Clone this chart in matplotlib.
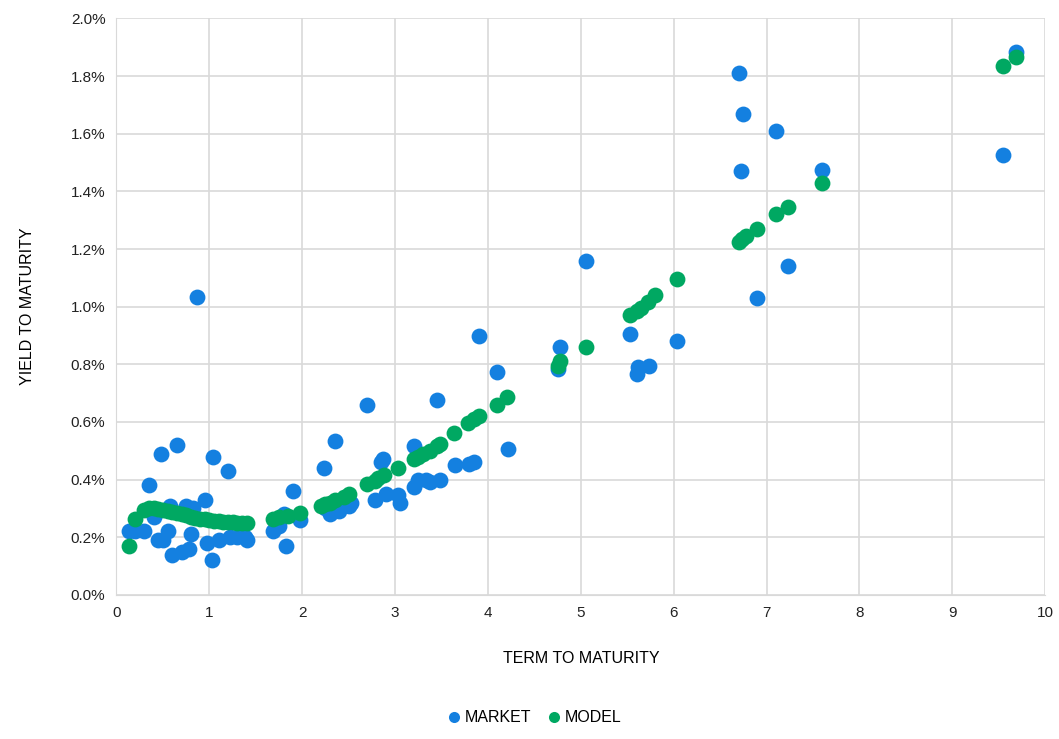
import matplotlib.pyplot as plt
from matplotlib.ticker import FuncFormatter

# Market observations (term in years, yield in %)
market_x = [0.13, 0.2, 0.3, 0.35, 0.4, 0.45, 0.48, 0.5, 0.55, 0.58, 0.6, 0.65, 0.7, 0.75,
            0.78, 0.8, 0.82, 0.87, 0.95, 0.97, 1.03, 1.04, 1.1, 1.2, 1.22, 1.3, 1.38, 1.4,
            1.68, 1.75, 1.8, 1.83, 1.9, 1.98, 2.23, 2.25, 2.3, 2.35, 2.4, 2.5, 2.52, 2.7,
            2.78, 2.85, 2.87, 2.9, 3.03, 3.05, 3.2, 3.2, 3.25, 3.33, 3.38, 3.45, 3.48, 3.65,
            3.8, 3.85, 3.9, 4.1, 4.22, 4.75, 4.77, 5.05, 5.53, 5.6, 5.62, 5.73, 6.03, 6.7,
            6.72, 6.75, 6.9, 7.1, 7.23, 7.6, 9.55, 9.68]
market_y = [0.22, 0.22, 0.22, 0.38, 0.27, 0.19, 0.49, 0.19, 0.22, 0.31, 0.14, 0.52, 0.15, 0.31,
            0.16, 0.21, 0.30, 1.035, 0.33, 0.18, 0.12, 0.48, 0.19, 0.43, 0.2, 0.2, 0.2, 0.19,
            0.22, 0.24, 0.28, 0.17, 0.36, 0.26, 0.44, 0.3, 0.28, 0.535, 0.29, 0.31, 0.32, 0.66,
            0.33, 0.46, 0.47, 0.35, 0.345, 0.32, 0.515, 0.375, 0.4, 0.4, 0.39, 0.675, 0.4, 0.45,
            0.455, 0.46, 0.9, 0.775, 0.505, 0.785, 0.86, 1.16, 0.905, 0.765, 0.79, 0.795, 0.88, 1.81,
            1.47, 1.67, 1.03, 1.61, 1.14, 1.475, 1.525, 1.885]

# Model fitted yields
model_x = [0.13, 0.2, 0.3, 0.35, 0.4, 0.45, 0.5, 0.55, 0.6, 0.65, 0.7, 0.75, 0.8, 0.85,
           0.9, 0.95, 1.0, 1.05, 1.1, 1.15, 1.2, 1.25, 1.3, 1.35, 1.4,
           1.68, 1.75, 1.85, 1.98, 2.2, 2.25, 2.3, 2.35, 2.45, 2.5, 2.7, 2.78, 2.82, 2.88,
           3.03, 3.2, 3.25, 3.3, 3.38, 3.45, 3.48, 3.63, 3.78, 3.85, 3.9, 4.1, 4.2, 4.75,
           4.77, 5.05, 5.53, 5.6, 5.65, 5.72, 5.8, 6.03, 6.7, 6.73, 6.78, 6.9, 7.1, 7.23,
           7.6, 9.55, 9.68]
model_y = [0.17, 0.265, 0.295, 0.3, 0.3, 0.298, 0.295, 0.292, 0.288, 0.284, 0.28, 0.276, 0.272, 0.268,
           0.265, 0.262, 0.26, 0.258, 0.256, 0.254, 0.253, 0.252, 0.251, 0.25, 0.25,
           0.265, 0.27, 0.275, 0.285, 0.31, 0.315, 0.32, 0.33, 0.34, 0.35, 0.385, 0.395, 0.405, 0.415,
           0.44, 0.47, 0.48, 0.49, 0.5, 0.515, 0.525, 0.56, 0.595, 0.61, 0.62, 0.66, 0.685, 0.795,
           0.81, 0.86, 0.97, 0.985, 0.995, 1.015, 1.04, 1.095, 1.225, 1.235, 1.245, 1.27, 1.32, 1.345,
           1.43, 1.835, 1.865]

plt.rcParams['font.family'] = ['Liberation Sans', 'DejaVu Sans']

fig = plt.figure(figsize=(10.59, 7.39), dpi=100)
ax = fig.add_axes([0.11, 0.195, 0.877, 0.78])

ax.scatter(market_x, market_y, s=130, color="#1480e0", label="MARKET", zorder=3, linewidths=0)
ax.scatter(model_x, model_y, s=130, color="#00a862", label="MODEL", zorder=4, linewidths=0)

ax.set_xlim(0, 10)
ax.set_ylim(0, 2.0)
ax.set_xticks(range(0, 11))
ax.set_yticks([i * 0.2 for i in range(11)])
ax.yaxis.set_major_formatter(FuncFormatter(lambda v, _: f"{v:.1f}%"))
ax.grid(True, color="#d9d9d9", lw=1.2)
ax.set_axisbelow(True)
for side in ["top", "right"]:
    ax.spines[side].set_visible(False)
ax.spines["left"].set_color("#d9d9d9")
ax.spines["bottom"].set_color("#d9d9d9")
ax.tick_params(length=0, labelsize=11, colors="#222222", pad=8)

ax.set_xlabel("TERM TO MATURITY", fontsize=11.5, labelpad=22)
ax.set_ylabel("YIELD TO MATURITY", fontsize=11.5, labelpad=26)

fig.legend(loc="lower center", bbox_to_anchor=(0.5, 0.0), ncol=2, frameon=False,
           fontsize=11.5, handletextpad=-0.3, columnspacing=0.4, markerscale=0.7)

fig.savefig("out.png", dpi=100)
